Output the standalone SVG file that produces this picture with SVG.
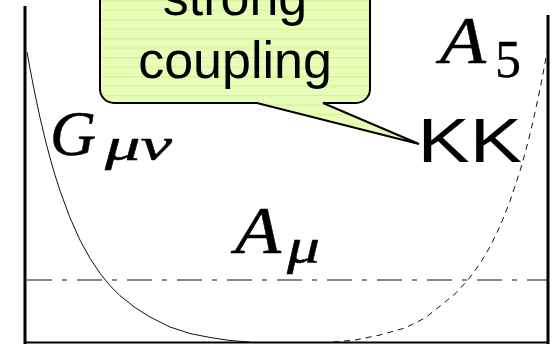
<svg xmlns="http://www.w3.org/2000/svg" width="559" height="344" viewBox="0 0 559 344">
<style>
.frame{stroke:#000;stroke-width:3;fill:none}
.curve{stroke:#111;stroke-width:1;fill:none}
.dash{stroke:#111;stroke-width:1;fill:none;stroke-dasharray:6 5}
.dashdot{stroke:#111;stroke-width:1;fill:none;stroke-dasharray:25 10 5 10}
.sans{font-family:"Liberation Sans",Arial,sans-serif;fill:#000}
.math{font-family:"Liberation Serif","Times New Roman",serif;font-style:italic;fill:#000;stroke:#000;stroke-width:0.5}
.rm{font-family:"Liberation Serif","Times New Roman",serif;fill:#000;stroke:#000;stroke-width:0.4}
</style>
<defs>
<pattern id="stripes" patternUnits="userSpaceOnUse" width="10" height="9.5">
<rect width="10" height="9.5" fill="#e8fdb8"/>
<rect y="0" width="10" height="1.2" fill="#d6f496"/>
</pattern>
</defs>
<rect width="559" height="344" fill="#fff"/>
<g id="frame">
<line class="frame" x1="25" y1="6" x2="25" y2="344"/>
<line class="frame" x1="548" y1="15" x2="548" y2="344"/>
<line x1="24" y1="342.5" x2="549" y2="342.5" stroke="#000" stroke-width="2"/>
</g>
<g id="connectors">
<line class="dashdot" x1="27" y1="280" x2="547" y2="280"/>
<polyline class="curve" points="27,52 30,68.7 35,94.3 40,117.6 45,138.7 50,157.8 55,175.1 60,190.7 70,217.8 80,240.1 90,258.3 100,273.3 110,285.6 120,295.7 135,307.5 150,317 170,327 190,333.5 210,337.5 230,340.5 250,342"/>
<polyline class="dash" points="333,342 355,340 380,335 405,328 425,318 440,306.1 455,293.9 468,280 480,263.6 490,246.8 500,226.2 510,201.2 520,171 525,153.3 530,134 535,112.6 540,89.1 544,68.5 547,52"/>
</g>
<g id="callout">
<path d="M114,-40 H356 A14,14 0 0 1 370,-26 V89 A14,14 0 0 1 356,103 H323 L419,144 L257,103 H114 A14,14 0 0 1 100,89 V-26 A14,14 0 0 1 114,-40 Z" fill="url(#stripes)" stroke="#000" stroke-width="2" stroke-linejoin="miter"/>
<text class="sans" x="235" y="15" font-size="52" text-anchor="middle">strong</text>
<text class="sans" x="235" y="78" font-size="52" text-anchor="middle">coupling</text>
</g>
<g id="kk">
<text class="sans" x="417.5" y="162" font-size="63" textLength="104.5" lengthAdjust="spacingAndGlyphs">KK</text>
</g>
<g id="G">
<text class="math" x="50" y="155" font-size="64" textLength="46" lengthAdjust="spacingAndGlyphs">G</text>
<text class="math" x="105" y="160" font-size="46" textLength="67" lengthAdjust="spacingAndGlyphs">μν</text>
</g>
<g id="A5">
<text class="math" x="440" y="63" font-size="68" textLength="46" lengthAdjust="spacingAndGlyphs">A</text>
<text class="rm" x="495" y="77" font-size="52">5</text>
</g>
<g id="Amu">
<text class="math" x="235" y="253" font-size="68" textLength="46" lengthAdjust="spacingAndGlyphs">A</text>
<text class="math" x="287" y="263" font-size="50" textLength="33" lengthAdjust="spacingAndGlyphs">μ</text>
</g>
</svg>
